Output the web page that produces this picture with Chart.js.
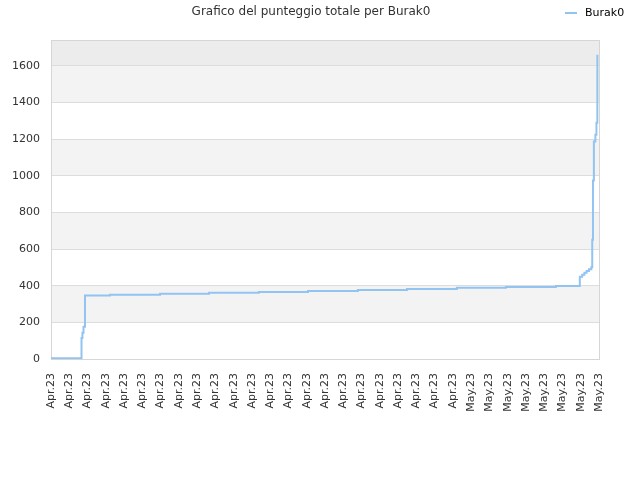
<!DOCTYPE html>
<html>
<head>
<meta charset="UTF-8">
<title>Grafico del punteggio totale per Burak0</title>
<script src="https://cdn.jsdelivr.net/npm/chart.js@4.4.0/dist/chart.umd.min.js"></script>
<style>
  html, body { margin: 0; padding: 0; background: #fff; }
  #wrap { width: 640px; height: 480px; }
</style>
</head>
<body>
<div id="wrap"><canvas id="chart"></canvas></div>
<script>
// tick labels along the x axis, one per tick (0..30)
var xTickLabels = [
  'Apr.23', 'Apr.23', 'Apr.23', 'Apr.23', 'Apr.23', 'Apr.23', 'Apr.23', 'Apr.23',
  'Apr.23', 'Apr.23', 'Apr.23', 'Apr.23', 'Apr.23', 'Apr.23', 'Apr.23', 'Apr.23',
  'Apr.23', 'Apr.23', 'Apr.23', 'Apr.23', 'Apr.23', 'Apr.23', 'Apr.23',
  'May.23', 'May.23', 'May.23', 'May.23', 'May.23', 'May.23', 'May.23', 'May.23'
];

// where the score changes (in x tick units) and the new total score
var changeX = [0, 1.67, 1.72, 1.78, 1.86, 3.23, 5.97, 8.65, 11.38, 14.07, 16.8,
  19.49, 22.22, 24.9, 27.64, 28.95, 29.08, 29.2, 29.32, 29.45, 29.58,
  29.63, 29.67, 29.72, 29.8, 29.86, 29.91];
var scoreY = [4, 115, 143, 176, 346, 351, 356, 361, 366, 371, 377,
  382, 388, 393, 398, 449, 460, 470, 480, 490, 500,
  650, 973, 1186, 1223, 1288, 1659];

var yMax = 1740;
var yStep = 200;
var playerName = 'Burak0';
var chartTitle = 'Grafico del punteggio totale per Burak0';

var lineColor = 'rgb(146,196,242)';
var textColor = '#333333';
var fontFamily = '"DejaVu Sans", Verdana, sans-serif';

var points = [];
for (var i = 0; i < changeX.length; i++) {
  points.push({ x: changeX[i], y: scoreY[i] });
}

// alternating background bands, plot border, title and legend
var decorPlugin = {
  id: 'decor',
  beforeDraw: function(chart) {
    var ctx = chart.ctx, a = chart.chartArea, y = chart.scales.y;
    ctx.save();
    ctx.fillStyle = '#ffffff';
    ctx.fillRect(0, 0, chart.width, chart.height);
    for (var v = 0; v < yMax; v += yStep) {
      var top = y.getPixelForValue(Math.min(v + yStep, yMax));
      var bot = y.getPixelForValue(v);
      var band = v / yStep;
      if (v >= 1600) ctx.fillStyle = '#ececec';
      else ctx.fillStyle = band % 2 ? '#f3f3f3' : '#ffffff';
      ctx.fillRect(a.left, top, a.right - a.left, bot - top);
    }
    ctx.restore();
  },
  beforeDatasetsDraw: function(chart) {
    var ctx = chart.ctx, a = chart.chartArea;
    ctx.save();
    ctx.strokeStyle = '#d6d6d6';
    ctx.lineWidth = 1;
    ctx.strokeRect(Math.round(a.left) + 0.5, Math.round(a.top) + 0.5,
      Math.round(a.right - a.left), Math.round(a.bottom - a.top));
    ctx.restore();
  },
  afterDraw: function(chart) {
    var ctx = chart.ctx;
    ctx.save();
    ctx.fillStyle = textColor;
    ctx.textBaseline = 'middle';
    ctx.textAlign = 'center';
    ctx.font = '12px ' + fontFamily;
    ctx.fillText(chartTitle, 311, 12);
    // legend
    ctx.strokeStyle = lineColor;
    ctx.lineWidth = 2;
    ctx.beginPath();
    ctx.moveTo(565, 13);
    ctx.lineTo(577, 13);
    ctx.stroke();
    ctx.textAlign = 'left';
    ctx.font = '11px ' + fontFamily;
    ctx.fillStyle = '#000000';
    ctx.fillText(playerName, 585, 13);
    ctx.restore();
  }
};

var ctx = document.getElementById('chart').getContext('2d');
var myChart = new Chart(ctx, {
  type: 'line',
  data: {
    datasets: [{
      label: playerName,
      data: points,
      stepped: true,
      borderColor: lineColor,
      borderWidth: 2,
      pointRadius: 0,
      fill: false
    }]
  },
  options: {
    responsive: true,
    maintainAspectRatio: false,
    animation: false,
    layout: { padding: { top: 40, right: 41, bottom: 0, left: 0 } },
    plugins: {
      legend: { display: false },
      title: { display: false },
      tooltip: { enabled: false }
    },
    scales: {
      x: {
        type: 'linear',
        min: 0,
        max: xTickLabels.length - 1,
        grid: { display: false },
        border: { display: false },
        ticks: {
          stepSize: 1,
          autoSkip: false,
          minRotation: 90,
          maxRotation: 90,
          padding: 6,
          color: textColor,
          font: { family: fontFamily, size: 11 },
          callback: function(v) { return xTickLabels[v]; }
        },
        afterFit: function(s) { s.height = 121; }
      },
      y: {
        min: 0,
        max: yMax,
        grid: { color: '#dddddd', drawTicks: false },
        border: { display: false },
        ticks: {
          stepSize: yStep,
          includeBounds: false,
          padding: 11,
          color: textColor,
          font: { family: fontFamily, size: 11 },
          callback: function(v) { return String(v); }
        },
        afterFit: function(s) { s.width = 51; }
      }
    }
  },
  plugins: [decorPlugin]
});
</script>
</body>
</html>
